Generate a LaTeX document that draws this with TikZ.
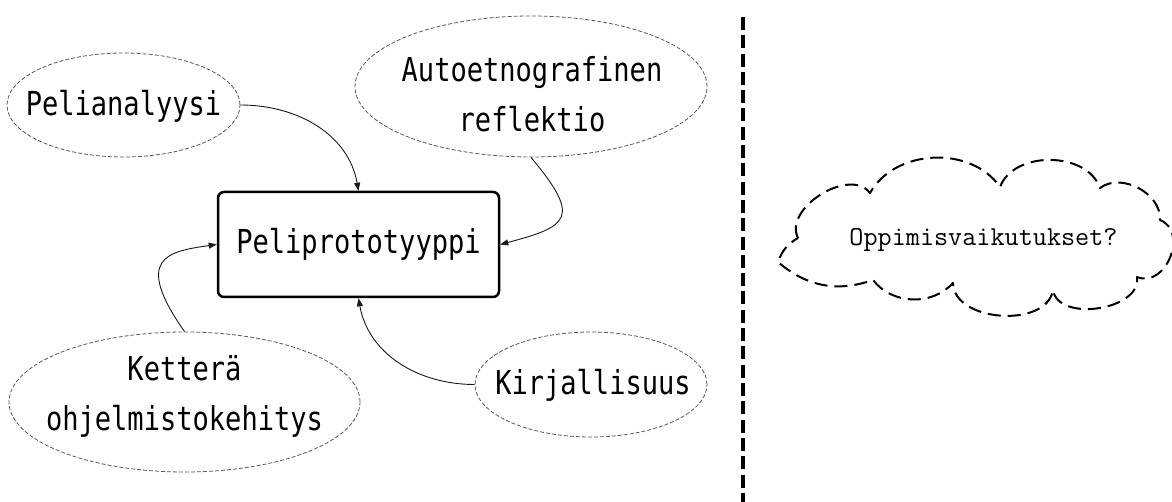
\documentclass[tikz,border=0pt]{standalone}
\usepackage{fontspec}
\usetikzlibrary{shapes.geometric,arrows.meta}
\newfontfamily\nodefont[FakeStretch=0.82]{DejaVu Sans Mono}
\begin{document}
\begin{tikzpicture}[x=1pt,y=1pt,
  oval/.style={ellipse, draw=black!65, line width=0.8pt, dash pattern=on 4pt off 2pt, inner sep=0pt},
  lbl/.style={inner sep=0pt, align=center, font=\nodefont\fontsize{33}{50}\selectfont},
  mainbox/.style={draw, rounded corners=6pt, line width=2.5pt, minimum width=281pt, minimum height=105pt, inner sep=0pt, font=\nodefont\fontsize{33}{50}\selectfont},
  conn/.style={line width=0.9pt, draw=black!90, -{Triangle[length=8pt,width=6pt]}},
  cloudline/.style={line width=2pt, dash pattern=on 13pt off 7pt, line join=round},
  divider/.style={line width=3.3pt, dash pattern=on 13pt off 5.3pt}]
\fill[white] (0,0) rectangle (1172,-502);
\useasboundingbox (0,0) rectangle (1172,-502);

% central box
\node[mainbox] (proto) at (358.5,-244.5) {Peliprototyyppi};

% ellipses
\node[oval, minimum width=233pt, minimum height=104pt] (pel) at (123.5,-105) {};
\node[lbl] (pelt) at (123.5,-106) {Pelianalyysi};

\node[oval, minimum width=352pt, minimum height=141pt] (auto) at (531,-86.5) {};
\node[lbl] (autot) at (532,-94.5) {Autoetnografinen\\reflektio};

\node[oval, minimum width=351pt, minimum height=140pt] (kett) at (184.5,-402) {};
\node[lbl] (kettt) at (184.5,-396) {Ketterä\\ohjelmistokehitys};

\node[oval, minimum width=232pt, minimum height=105pt] (kirj) at (591,-384.5) {};
\node[lbl] (kirjt) at (593,-385.5) {Kirjallisuus};

% connectors
\draw[conn] (pel.east) to[out=0,in=100] (proto.north);
\draw[conn] (auto.south) .. controls +(-50:80) and +(15:70) .. (proto.east);
\draw[conn] (kett.north) .. controls +(125:90) and +(188:50) .. (proto.west);
\draw[conn] (kirj.west) to[out=180,in=-80] (proto.south);

% divider
\coordinate (dtop) at (743,-17);
\coordinate (dbot) at (743,-502);
\draw[divider] (dtop) -- (dbot);

% cloud
\coordinate (cA) at (798,-238);
\coordinate (cB) at (870,-193);
\coordinate (cC) at (1000,-187);
\coordinate (cD) at (1100,-188);
\coordinate (cE) at (1160,-220);
\coordinate (cF) at (1137,-277);
\coordinate (cG) at (1053,-290);
\coordinate (cH) at (953,-283);
\coordinate (cI) at (873,-280);
\coordinate (cJ) at (778,-262);
\draw[cloudline] (cA) to[bend left=85] (cB) to[bend left=58] (cC) to[bend left=70] (cD)
  to[bend left=65] (cE) to[bend left=90,looseness=1.3] (cF) to[bend left=90] (cG)
  to[bend left=85] (cH) to[bend left=50] (cI) to[bend left=30] (cJ) to[bend left=20] (cA);
\node[inner sep=0pt, anchor=base, font=\ttfamily\fontsize{27.4}{30}\selectfont] (clt) at (983.5,-246) {Oppimisvaikutukset?};
\end{tikzpicture}
\end{document}
